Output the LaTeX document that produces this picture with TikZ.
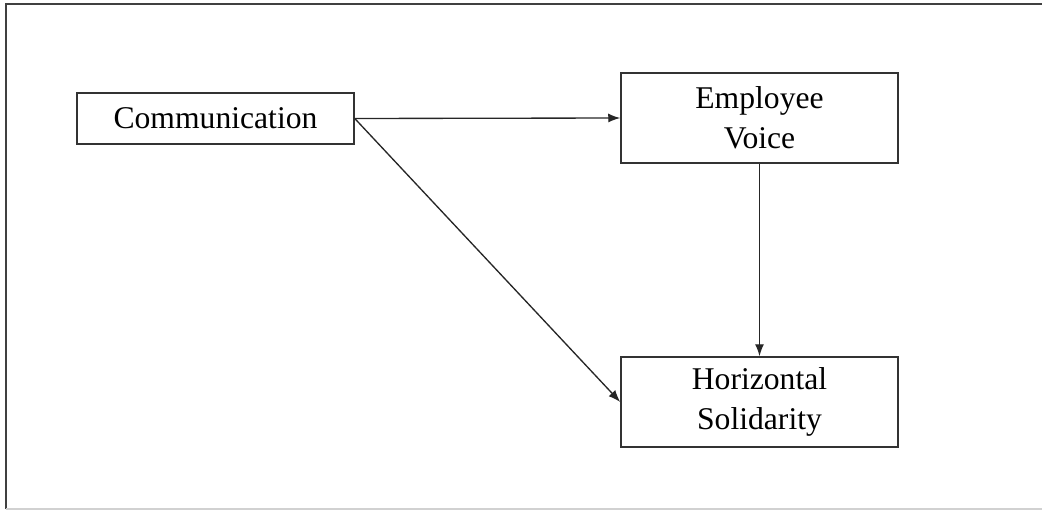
\documentclass[tikz,border=0pt]{standalone}
\usepackage{fontspec}
\setmainfont{Liberation Serif}
\usetikzlibrary{arrows.meta}

\tikzset{
  blockbox/.style={draw=black!80, line width=0.045cm, inner sep=0pt,
    minimum width=8.31cm, align=center,
    font=\fontsize{27}{34}\selectfont},
  flow/.style={draw=black!85, line width=0.04cm,
    -{Latex[length=0.36cm,width=0.27cm]}}
}

\begin{document}
\begin{tikzpicture}[x=0.03cm, y=-0.03cm]
    % Fix the page to the reference size
    \useasboundingbox (0,0) rectangle (1042,510);

    % Outer frame round the whole figure
    \draw[black!75, line width=0.05cm] (6,509) -- (6,4) -- (1042,4);
    \draw[black!18, line width=0.05cm] (6,509) -- (1042,509);

    % The three constructs of the model
    \node[blockbox, minimum height=1.53cm] (comm) at (215.5, 118.5) {Communication};
    \node[blockbox, minimum height=2.7cm] (voice) at (759.5, 118) {Employee\\Voice};
    \node[blockbox, minimum height=2.7cm] (solid) at (759.5, 402) {Horizontal\\Solidarity};

    % Paths between the constructs
    \draw[flow] (comm.east) -- (voice.west);
    \draw[flow] (comm.east) -- (solid.west);
    \draw[flow] (voice.south) -- (solid.north);
\end{tikzpicture}
\end{document}
